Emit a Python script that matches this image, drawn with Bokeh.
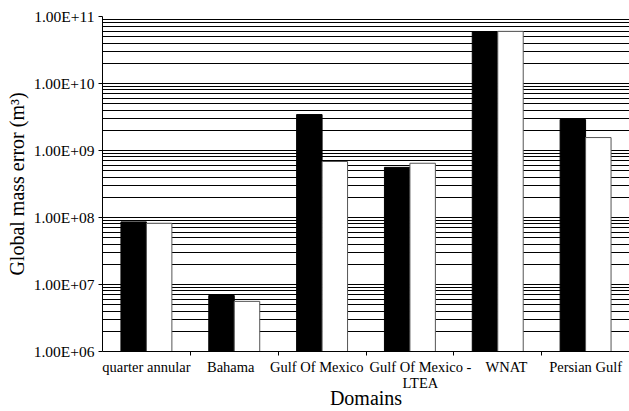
from bokeh.plotting import figure
from bokeh.models import (ColumnDataSource, FactorRange, Range1d, LinearAxis,
                          FixedTicker)
from bokeh.transform import dodge
from bokeh.embed import file_html
from bokeh.resources import INLINE

# ---- data ----
domains = ["quarter annular", "Bahama", "Gulf Of Mexico",
           "Gulf Of Mexico - LTEA", "WNAT", "Persian Gulf"]
domain_labels = ["quarter annular", "Bahama", "Gulf Of Mexico",
                 "Gulf Of Mexico -\nLTEA", "WNAT", "Persian Gulf"]
series_black = [8.6e7, 6.85e6, 3.44e9, 5.6e8, 5.9e10, 2.9e9]
series_white = [8.2e7, 5.6e6, 6.85e8, 6.45e8, 6.0e10, 1.56e9]
y_ticks = [1e6, 1e7, 1e8, 1e9, 1e10, 1e11]
y_tick_labels = ["1.00E+06", "1.00E+07", "1.00E+08", "1.00E+09",
                 "1.00E+10", "1.00E+11"]
y_minor = [k * 10.0 ** e for e in range(6, 11) for k in range(2, 10)]

# layout: small horizontal nudges of category labels (in category widths)
label_nudge = [0.0, -0.04, -0.06, 0.12, 0.1, 0.0]

FONT = "Liberation Serif"
y_start, y_end = y_ticks[0], y_ticks[-1]

src = ColumnDataSource(dict(domain=domains, black=series_black,
                            white=series_white,
                            base=[y_start] * len(domains)))

p = figure(width=629, height=411, x_range=FactorRange(*domains),
           y_range=Range1d(y_start, y_end), y_axis_type="log",
           x_axis_location=None, output_backend="svg",
           toolbar_location=None, min_border_left=102, min_border_right=0,
           min_border_top=16, min_border_bottom=0)
p.outline_line_color = None
p.background_fill_color = "white"
p.border_fill_color = "white"

# bars
bw = 0.29
p.vbar(x=dodge("domain", -bw / 2, range=p.x_range), top="black",
       bottom="base", width=bw, source=src, fill_color="black",
       line_color="black", line_width=1)
p.vbar(x=dodge("domain", bw / 2, range=p.x_range), top="white",
       bottom="base", width=bw, source=src, fill_color="white",
       line_color="#555555", line_width=1)

# x axis: category labels at slot centres, tick marks between categories
n = len(domains)
label_pos = [i + 0.5 + label_nudge[i] for i in range(n)]
xa = LinearAxis(ticker=FixedTicker(ticks=label_pos,
                                   minor_ticks=list(range(1, n))))
xa.major_label_overrides = dict(zip(label_pos, domain_labels))
xa.major_tick_out = 0
xa.major_tick_in = 0
xa.minor_tick_out = 4
xa.minor_tick_in = 0
xa.minor_tick_line_color = "black"
xa.axis_line_color = "black"
xa.major_label_text_font = FONT
xa.major_label_text_font_size = "14.5px"
xa.major_label_text_line_height = 1.0
xa.major_label_text_color = "black"
xa.major_label_standoff = 3
xa.axis_label = "Domains"
xa.axis_label_text_font = FONT
xa.axis_label_text_font_size = "20px"
xa.axis_label_text_font_style = "normal"
xa.axis_label_text_color = "black"
xa.axis_label_standoff = -7
p.add_layout(xa, "below")

# y axis
ya = p.yaxis[0]
ya.ticker = FixedTicker(ticks=y_ticks, minor_ticks=y_minor)
ya.major_label_overrides = dict(zip(y_ticks, y_tick_labels))
ya.major_tick_out = 4
ya.major_tick_in = 0
ya.minor_tick_out = 0
ya.minor_tick_in = 0
ya.axis_line_color = "black"
ya.major_tick_line_color = "black"
ya.major_label_text_font = FONT
ya.major_label_text_font_size = "15.5px"
ya.major_label_text_color = "black"
ya.major_label_standoff = 4
ya.axis_label = "Global mass error (m³)"
ya.axis_label_text_font = FONT
ya.axis_label_text_font_size = "20px"
ya.axis_label_text_font_style = "normal"
ya.axis_label_text_color = "black"
ya.axis_label_standoff = 3

p.xgrid.visible = False
p.ygrid.grid_line_color = "black"
p.ygrid.grid_line_width = 1
p.ygrid.minor_grid_line_color = "black"
p.ygrid.minor_grid_line_width = 1

open("out.html", "w").write(file_html(p, INLINE))
